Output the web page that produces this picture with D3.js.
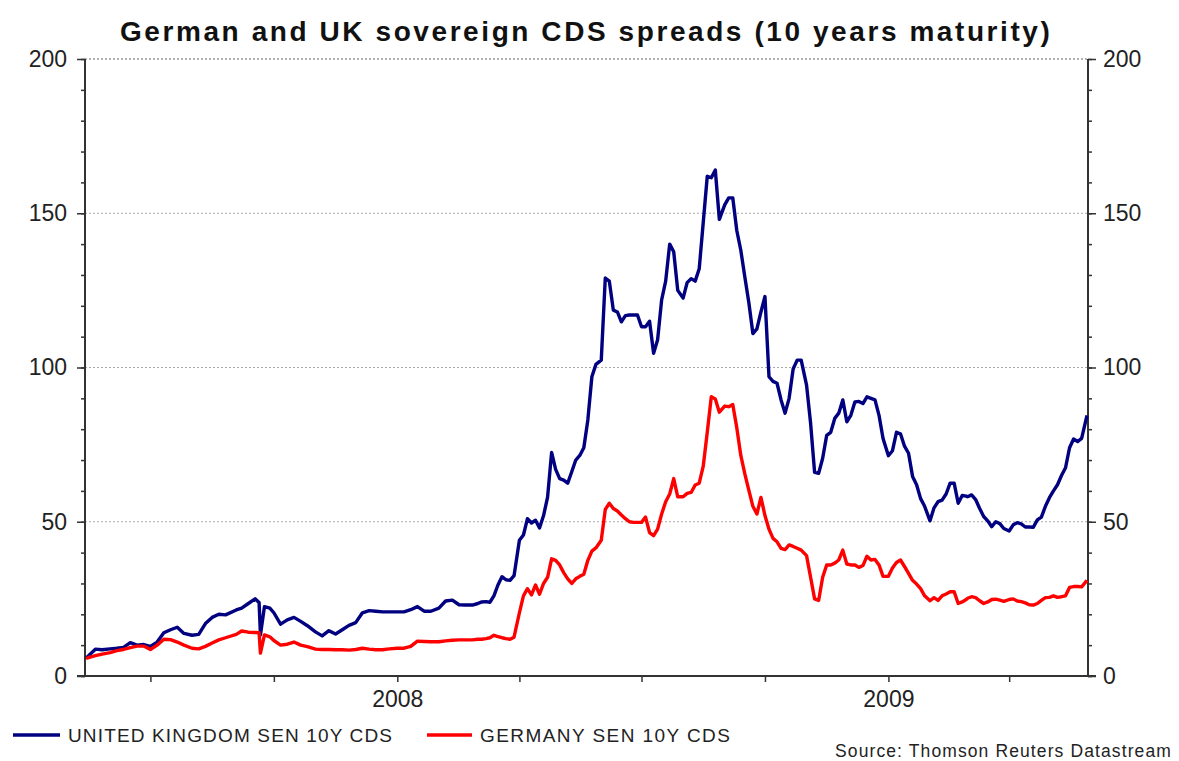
<!DOCTYPE html>
<html><head><meta charset="utf-8">
<script src="https://cdnjs.cloudflare.com/ajax/libs/d3/7.8.5/d3.min.js"></script>
<style>body{margin:0;background:#fff} svg{display:block} text{font-family:"Liberation Sans",Arial,sans-serif}</style>
</head><body><svg id="c" width="1179" height="761"></svg>
<script>
const dates = [
"2007-05-14","2007-05-21","2007-05-26",
"2007-06-01","2007-06-06","2007-06-11","2007-06-16","2007-06-21","2007-06-26",
"2007-07-01","2007-07-06","2007-07-11","2007-07-16","2007-07-21","2007-07-26",
"2007-08-01","2007-08-06","2007-08-11","2007-08-16","2007-08-21","2007-08-26",
"2007-09-03","2007-09-07","2007-09-12","2007-09-17","2007-09-20","2007-09-21","2007-09-24","2007-09-28",
"2007-10-01","2007-10-06","2007-10-11","2007-10-16","2007-10-21","2007-10-26",
"2007-11-01","2007-11-06","2007-11-11","2007-11-16","2007-11-21","2007-11-26",
"2007-12-01","2007-12-06","2007-12-11","2007-12-16","2007-12-21","2007-12-26",
"2008-01-01","2008-01-06","2008-01-11","2008-01-16","2008-01-21","2008-01-26",
"2008-02-01","2008-02-06","2008-02-11","2008-02-16","2008-02-21","2008-02-26",
"2008-03-01","2008-03-04","2008-03-07","2008-03-10","2008-03-13","2008-03-16","2008-03-19","2008-03-22","2008-03-25","2008-03-28",
"2008-04-01","2008-04-04","2008-04-07","2008-04-10","2008-04-13","2008-04-16","2008-04-19","2008-04-22","2008-04-25","2008-04-28",
"2008-05-01","2008-05-04","2008-05-07","2008-05-10","2008-05-13","2008-05-16","2008-05-19","2008-05-22","2008-05-25","2008-05-28",
"2008-06-01","2008-06-04","2008-06-07","2008-06-10","2008-06-13","2008-06-16","2008-06-19","2008-06-22","2008-06-25","2008-06-28",
"2008-07-01","2008-07-04","2008-07-07","2008-07-10","2008-07-13","2008-07-16","2008-07-19","2008-07-22","2008-07-25","2008-07-28",
"2008-08-01","2008-08-04","2008-08-07","2008-08-10","2008-08-13","2008-08-16","2008-08-19","2008-08-22","2008-08-25","2008-08-28",
"2008-09-01","2008-09-04","2008-09-07","2008-09-10","2008-09-13","2008-09-16","2008-09-19","2008-09-22","2008-09-25","2008-09-28",
"2008-10-01","2008-10-04","2008-10-07","2008-10-10","2008-10-13","2008-10-16","2008-10-19","2008-10-22","2008-10-25","2008-10-28",
"2008-11-01","2008-11-04","2008-11-07","2008-11-10","2008-11-13","2008-11-16","2008-11-19","2008-11-22","2008-11-25","2008-11-28",
"2008-12-01","2008-12-04","2008-12-07","2008-12-10","2008-12-13","2008-12-16","2008-12-19","2008-12-22","2008-12-25","2008-12-28",
"2009-01-01","2009-01-04","2009-01-07","2009-01-10","2009-01-13","2009-01-16","2009-01-19","2009-01-22","2009-01-25","2009-01-28",
"2009-02-01","2009-02-04","2009-02-07","2009-02-10","2009-02-13","2009-02-16","2009-02-19","2009-02-22","2009-02-25","2009-02-28",
"2009-03-01","2009-03-04","2009-03-07","2009-03-10","2009-03-13","2009-03-16","2009-03-19","2009-03-22","2009-03-25","2009-03-28",
"2009-04-01","2009-04-04","2009-04-07","2009-04-10","2009-04-13","2009-04-16","2009-04-19","2009-04-22","2009-04-25","2009-04-28",
"2009-05-01","2009-05-04","2009-05-07","2009-05-10","2009-05-13","2009-05-16","2009-05-19","2009-05-22","2009-05-25","2009-05-29"
];
const ukValues = [
5.8,8.7,8.5,
8.8,9.0,9.3,10.8,10.0,10.2,
9.6,11,14,15,15.8,13.8,
13.2,13.5,17,19,20,19.8,
21.4,22,23.5,25,23.8,13.3,22.5,22,
20.5,16.8,18.2,19,17.7,16.3,
14.3,13,14.7,13.6,15,16.4,
17.3,20.5,21.2,21,20.8,20.8,
20.8,20.8,21.5,22.5,21,21,
22,24.3,24.6,23.1,23,23,
23.5,24,24.1,23.9,26,29.5,32.2,31.2,31,32.5,
44,45.7,51,49.6,50.5,48,52,58,72.5,67,
64,63.5,62.5,66.2,70,71.5,74,83,97,101,
102.4,129,128,118.6,118,114.8,116.8,117,117,117,
113.2,113.2,115,104.6,109,121.9,128,140,137.5,125,
122.5,127.5,128.8,128,132,147,162,161.5,164,148,
152.7,155,155,144.4,138,129.3,121,111,112.5,118,
123,97,95.5,94.9,89.5,85.2,90,99.5,102.4,102.4,
94.3,82,66,65.7,70.6,78,79,83.5,85.2,89.5,
82.4,84.5,88.8,89,88.3,90.5,90,89.5,84.5,77,
71.4,73,79,78.5,74.5,72.2,64.7,62,57.5,55,
50.3,54.5,56.5,57,59,62.5,62.5,56,58.5,58.3,
58.1,58.7,57.2,54.3,51.7,50.3,48.4,50,49.4,47.8,
47,49,49.7,49.3,48.3,48.3,48.2,50.6,51.5,55,
57.8,60,62,65,67.5,74,76.8,76,77,84.5
];
const deValues = [
5.7,6.6,7.1,
7.6,8.2,8.6,9.2,9.7,9.7,
8.6,10,11.9,11.8,11,10,
9,8.8,9.6,10.7,11.7,12.4,
13.5,14.6,14.2,14.1,14,7.4,13.3,12.7,
11.5,10,10.3,11,10,9.5,
8.7,8.6,8.6,8.5,8.5,8.4,
8.6,9,8.7,8.5,8.5,8.8,
9,9,9.6,11.3,11.2,11.1,
11.1,11.4,11.6,11.7,11.7,11.7,
11.9,11.9,12.1,12.4,13.2,12.8,12.4,12.1,11.9,12.6,
20.5,26,28.3,26.3,29.5,26.5,30,32,38,37.5,
36,33.5,31.5,30,31.5,32.3,33,37.5,40.5,41.5,
44,54,56,54.3,53.5,52.2,51,50,49.8,49.8,
49.8,51.5,46.5,45.5,47.6,52.5,56.5,59,64,58.1,
58.1,59.2,59.5,61.9,62.5,68,79,90.5,89.8,85.5,
87.5,87.3,88,80.5,71.5,65.5,60.2,55,52.5,57.9,
52,47.6,44.6,43.5,41.4,41,42.5,42,41.4,40.8,
39,32,25,24.5,32,36,36,36.6,37.6,40.8,
36.3,36,36,35.2,35.8,38.8,37.6,37.8,36,32.3,
32.3,35,36.8,37.6,35.5,33.3,31,29.8,28.3,26,
24.4,25.4,24.5,26,26.6,27.3,27.3,23.5,24,24.8,
25.2,25.7,25.4,24.4,23.5,24,24.8,24.9,24.6,24.2,
24.8,25,24.3,24.1,23.7,23.1,23,23.5,24.5,25.4,
25.5,26,25.5,25.7,26,28.7,29,29,28.9,31
];
const yMajorTicks = [0,50,100,150,200];
const yMinorTicks = d3.range(0,201,10);
const seriesNames = ["UNITED KINGDOM SEN 10Y CDS","GERMANY SEN 10Y CDS"];
const seriesColors = ["#000080","#ff0000"];
const titleText = "German and UK sovereign CDS spreads (10 years maturity)";
const sourceText = "Source: Thomson Reuters Datastream";

const parse = d3.timeParse("%Y-%m-%d");
const D = dates.map(parse);
const uk = D.map((d,i)=>({date:d,v:ukValues[i]}));
const de = D.map((d,i)=>({date:d,v:deValues[i]}));

const svg = d3.select("#c");
const L=85,R=1088,T=59,B=676;
const x = d3.scaleTime().domain([D[0],D[D.length-1]]).range([86,1087]);
const y = d3.scaleLinear().domain([0,200]).range([B,T]);

function fit(sel,target){
  const n=sel.text().length; const w=sel.node().getComputedTextLength();
  sel.attr("letter-spacing",((target-w)/(n-1)).toFixed(2));
}

// grid
svg.append("g").selectAll("line").data(yMajorTicks.filter(v=>v>0)).join("line")
  .attr("x1",L).attr("x2",R).attr("y1",d=>y(d)).attr("y2",d=>y(d))
  .attr("stroke",d=>d===200?"#666":"#aaa").attr("stroke-width",1).attr("stroke-dasharray","2,2");

function styleAxis(g){
  g.select(".domain").remove();
  g.selectAll("line").attr("stroke","#333").attr("stroke-width",1.5);
  g.selectAll("text").attr("fill","#222").style("font-size","23px");
}
// left
svg.append("g").attr("transform",`translate(${L},0)`)
  .call(d3.axisLeft(y).tickValues(yMinorTicks).tickSize(4).tickFormat(""))
  .call(styleAxis);
svg.append("g").attr("transform",`translate(${L},0)`)
  .call(d3.axisLeft(y).tickValues(yMajorTicks).tickSize(8).tickPadding(10))
  .call(styleAxis);
// right
svg.append("g").attr("transform",`translate(${R},0)`)
  .call(d3.axisRight(y).tickValues(yMinorTicks).tickSize(4).tickFormat(""))
  .call(styleAxis);
svg.append("g").attr("transform",`translate(${R},0)`)
  .call(d3.axisRight(y).tickValues(yMajorTicks).tickSize(8).tickPadding(7))
  .call(styleAxis);
// bottom
svg.append("g").attr("transform",`translate(0,${B})`)
  .call(d3.axisBottom(x).ticks(d3.timeMonth.every(3)).tickSize(6).tickPadding(9)
    .tickFormat(d=>d.getMonth()===0?d3.timeFormat("%Y")(d):""))
  .call(styleAxis);

// frame lines
svg.append("line").attr("x1",L).attr("x2",L).attr("y1",T).attr("y2",B).attr("stroke","#333").attr("stroke-width",2);
svg.append("line").attr("x1",R).attr("x2",R).attr("y1",T).attr("y2",B).attr("stroke","#333").attr("stroke-width",2);
svg.append("line").attr("x1",L-8).attr("x2",R+8).attr("y1",B).attr("y2",B).attr("stroke","#333").attr("stroke-width",2);

// lines
const line = d3.line().x(d=>x(d.date)).y(d=>y(d.v));
[uk,de].forEach((s,i)=>{
  svg.append("path").datum(s).attr("d",line).attr("fill","none")
    .attr("stroke",seriesColors[i]).attr("stroke-width",3.4).attr("stroke-linejoin","round");
});

// title
const t = svg.append("text").attr("x",120).attr("y",41).attr("font-weight","bold")
  .style("font-size","28px").attr("fill","#111").text(titleText);
fit(t,930);

// legend
const legX=[[13,60,68,324],[427,472,480,250]];
seriesNames.forEach((n,i)=>{
  const [a,b,tx,tw]=legX[i];
  svg.append("line").attr("x1",a).attr("x2",b).attr("y1",735).attr("y2",735)
    .attr("stroke",seriesColors[i]).attr("stroke-width",3.5);
  const lt = svg.append("text").attr("x",tx).attr("y",741.5).style("font-size","19px").attr("fill","#222").text(n);
  fit(lt,tw);
});
const st = svg.append("text").attr("x",835).attr("y",757).style("font-size","17.5px").attr("fill","#222").text(sourceText);
fit(st,336);
</script></body></html>
